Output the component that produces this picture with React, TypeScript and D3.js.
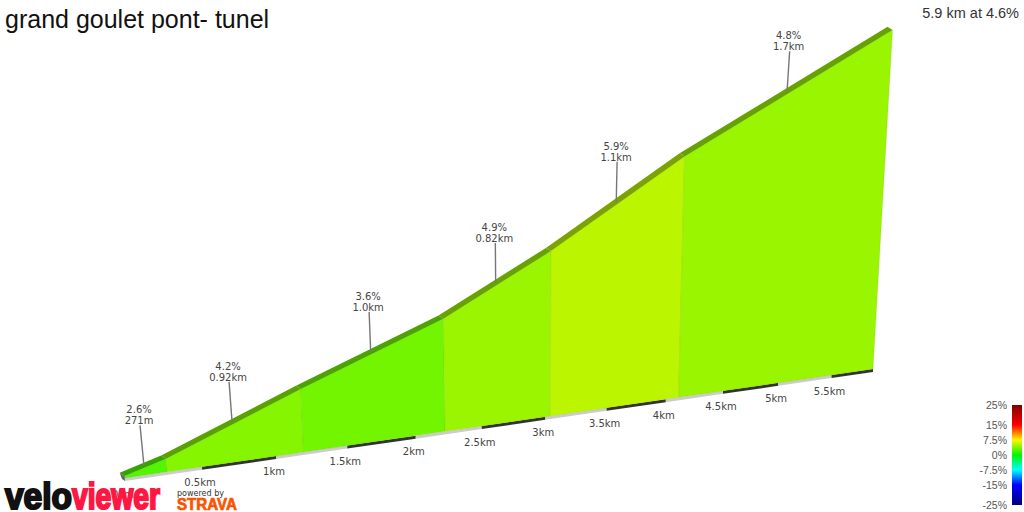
import * as d3 from 'd3';

const WIDTH = 1024;
const HEIGHT = 512;

// climb segments
const segmentEnds = [0, 0.271, 1.19, 2.22, 3.04, 4.11, 5.9];
const elevations = [0, 9, 49, 89, 131, 192, 271];
const gradients = [2.6, 4.2, 3.6, 4.9, 5.9, 4.8];
const lengthLabels = ['271m', '0.92km', '1.0km', '0.82km', '1.1km', '1.7km'];
const kmTicks = [0, 0.5, 1, 1.5, 2, 2.5, 3, 3.5, 4, 4.5, 5, 5.5];
const legendTicks = [25, 15, 7.5, 0, -7.5, -15, -25];
const legendColors = ['#7f0000', '#ff0000', '#fff500', '#00f500', '#00ffff', '#0000ff', '#00007f'];

const TOTAL_KM = 5.9;
const PERSPECTIVE = 1.24;
const VANISH_X = 530;
const VANISH_H = 6000;
const FONT = '"DejaVu Sans", sans-serif';
const ARIAL = '"Liberation Sans", Arial, sans-serif';

const tScale = d3.scaleLinear().domain([0, TOTAL_KM]).range([0, 1]);
const baseX = d3.scaleLinear().domain([0, 1]).range([125, 873]);
const baseY = d3.scaleLinear().domain([0, 1]).range([481, 372]);
const heightScale = d3.scaleLinear().domain([0, 271]).range([5, 342]);
const colorScale = d3.scaleLinear<string>().domain(legendTicks).range(legendColors);
const faceColor = d3.scaleLinear<string>().domain([0, 8]).range(['#00f500', '#fff500']);
const legendY = d3.scaleLinear().domain([25, -25]).range([405, 505]);

// km along the road, squeezed towards the far end
const roadT = (km: number) => {
  const t = tScale(km);
  return (PERSPECTIVE * t) / (1 + (PERSPECTIVE - 1) * t);
};

const basePoint = (km: number): [number, number] => [baseX(roadT(km)), baseY(roadT(km))];

const topPoint = (km: number, elev: number): [number, number] => {
  const [x, y] = basePoint(km);
  const h = heightScale(elev);
  return [x + ((x - VANISH_X) * h) / VANISH_H, y - h];
};

const shift = (p: [number, number], dx: number, dy: number): [number, number] => [p[0] + dx, p[1] + dy];
const poly = d3.line().curve(d3.curveLinearClosed);

const tops = segmentEnds.map((km, i) => topPoint(km, elevations[i]));

export default function App() {
  return (
    <svg
      width={WIDTH}
      height={HEIGHT}
      viewBox={`0 0 ${WIDTH} ${HEIGHT}`}
      style={{ position: 'absolute', left: 0, top: 0, background: '#fff' }}
    >
      <defs>
        <linearGradient id="legend" x1="0" y1="0" x2="0" y2="1">
          {legendTicks.map((d) => (
            <stop key={d} offset={(legendY(d) - 405) / 100} stopColor={colorScale(d)} />
          ))}
        </linearGradient>
      </defs>

      <text x={5} y={28} fontFamily={ARIAL} fontSize={25} fill="#111">grand goulet pont- tunel</text>
      <text x={1019} y={18} textAnchor="end" fontFamily={ARIAL} fontSize={14.5} fill="#333">5.9 km at 4.6%</text>

      {/* km axis, the 0km label sits under the logo */}
      {kmTicks.map((km) => {
        const [x, y] = basePoint(km);
        return (
          <text key={km} x={x - 2} y={y + 16.5} textAnchor="middle" fontFamily={FONT} fontSize={10} fill="#444">
            {`${km}km`}
          </text>
        );
      })}

      {/* road strip under the wall */}
      {d3.range(0, 12).map((i) => {
        const a = i * 0.5;
        const b = Math.min(a + 0.5, TOTAL_KM);
        return (
          <path
            key={i}
            d={poly([basePoint(a), basePoint(b), shift(basePoint(b), 0, -3), shift(basePoint(a), 0, -3)]) ?? ''}
            fill={i % 2 ? '#333' : '#ccc'}
          />
        );
      })}

      {/* wall faces and the darker top band */}
      {gradients.map((g, i) => {
        const fill = faceColor(g);
        const c = d3.rgb(fill);
        const dark = d3.rgb(c.r * 0.66, c.g * 0.66, c.b * 0.66).formatHex();
        const b0 = shift(basePoint(segmentEnds[i]), 0, -3);
        const b1 = shift(basePoint(segmentEnds[i + 1]), 0, -3);
        return (
          <g key={i}>
            <path d={poly([b0, b1, tops[i + 1], tops[i]]) ?? ''} fill={fill} stroke={dark} strokeOpacity={0.2} strokeWidth={0.8} />
            <path d={poly([tops[i], tops[i + 1], shift(tops[i + 1], -5, -3.2), shift(tops[i], -5, -3.2)]) ?? ''} fill={dark} />
          </g>
        );
      })}
      <path
        d={poly([tops[0], shift(tops[0], -5, -3.2), shift(basePoint(0), -3, -2), basePoint(0)]) ?? ''}
        fill="#666"
      />

      {/* segment callouts */}
      {gradients.map((g, i) => {
        const mx = (tops[i][0] + tops[i + 1][0]) / 2 - 1.5;
        const my = (tops[i][1] + tops[i + 1][1]) / 2;
        const topX = mx + (mx - VANISH_X) / 100;
        return (
          <g key={i} fontFamily={FONT} fontSize={10} fill="#444" textAnchor="middle">
            <line x1={mx} y1={my - 2} x2={topX} y2={my - 42} stroke="#777" strokeWidth={1.4} />
            <text x={topX - 1} y={my - 54}>{`${g}%`}</text>
            <text x={topX - 1} y={my - 43}>{lengthLabels[i]}</text>
          </g>
        );
      })}

      {/* colour legend */}
      <rect x={1012} y={legendY(25)} width={10} height={legendY(-25) - legendY(25)} fill="url(#legend)" />
      {legendTicks.map((d) => (
        <text key={d} x={1007} y={legendY(d) + 4} textAnchor="end" fontFamily={ARIAL} fontSize={10.5} fill="#555">
          {`${d}%`}
        </text>
      ))}

      {/* logos */}
      <g fontFamily={ARIAL} fontWeight="bold" fontSize={37} strokeWidth={2.2}>
        <text x={5} y={509} textLength={67} lengthAdjust="spacingAndGlyphs" fill="#111" stroke="#111">velo</text>
        <text x={72} y={509} textLength={88} lengthAdjust="spacingAndGlyphs" fill="#ff1744" stroke="#ff1744">viewer</text>
      </g>
      <text x={177} y={496} textLength={47} lengthAdjust="spacingAndGlyphs" fontFamily={FONT} fontSize={9.5} fill="#333">powered by</text>
      <text x={177} y={510} textLength={60} lengthAdjust="spacingAndGlyphs" fontFamily={ARIAL} fontWeight="bold" fontSize={16} fill="#fc5200" stroke="#fc5200" strokeWidth={0.7}>STRAVA</text>
    </svg>
  );
}
